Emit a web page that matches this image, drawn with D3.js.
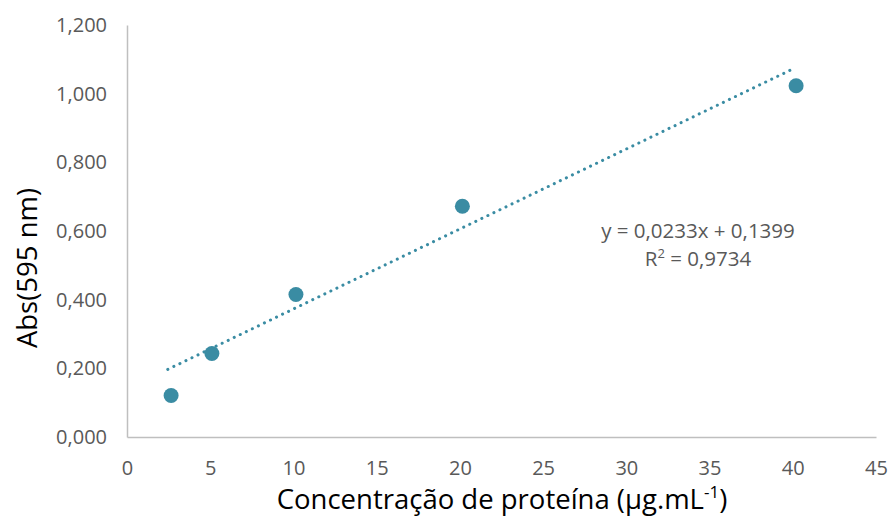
<!DOCTYPE html>
<meta charset="utf-8">
<style>
    body { margin: 0; background: #fff; }
    .tick text { fill: #595959; font: 20px "Open Sans", sans-serif; }
    .axis-title { fill: #000; font: 27.5px "Open Sans", sans-serif; }
    .eq { fill: #595959; font: 20.5px "Open Sans", sans-serif; }
</style>
<svg width="892" height="525"></svg>
<script src="https://d3js.org/d3.v7.min.js"></script>
<script>
    // concentration (ug/mL) and absorbance
    var concentracao = [2.65, 5.1, 10.15, 20.15, 40.2];
    var absorbancia = [0.121, 0.243, 0.415, 0.672, 1.023];
    var xTicks = [0, 5, 10, 15, 20, 25, 30, 35, 40, 45];
    var yTicks = [0, 0.2, 0.4, 0.6, 0.8, 1.0, 1.2];
    var slope = 0.0233, intercept = 0.1399;

    var svg = d3.select("svg"),
        margin = {top: 25, right: 16, bottom: 88, left: 127},
        width = +svg.attr("width") - margin.left - margin.right,
        height = +svg.attr("height") - margin.top - margin.bottom,
        g = svg.append("g").attr("transform", "translate(" + margin.left + "," + margin.top + ")");

    var x = d3.scaleLinear().domain([0, 45]).range([0, width]);
    var y = d3.scaleLinear().domain([0, 1.2]).range([height, 0]);
    var fmt = function (d) { return d3.format(".3f")(d).replace(".", ","); };

    g.append("g")
        .attr("transform", "translate(0," + height + ")")
        .call(d3.axisBottom(x).tickValues(xTicks).tickSize(0).tickPadding(24))
        .call(function (a) { a.select(".domain").attr("stroke", "#bfbfbf").attr("stroke-width", 1.5); });

    g.append("g")
        .call(d3.axisLeft(y).tickValues(yTicks).tickFormat(fmt).tickSize(0).tickPadding(20))
        .call(function (a) { a.select(".domain").attr("stroke", "#bfbfbf").attr("stroke-width", 1.5); });

    // trendline
    var xr = d3.extent(concentracao);
    g.append("line")
        .attr("x1", x(xr[0] - 0.2)).attr("y1", y(slope * (xr[0] - 0.2) + intercept))
        .attr("x2", x(xr[1] - 0.3)).attr("y2", y(slope * (xr[1] - 0.3) + intercept))
        .attr("stroke", "#3a8ca3")
        .attr("stroke-width", 3)
        .attr("stroke-linecap", "round")
        .attr("stroke-dasharray", "0.1 6.6");

    g.selectAll(".pt")
        .data(concentracao)
        .enter().append("circle")
        .attr("class", "pt")
        .attr("cx", function (d) { return x(d); })
        .attr("cy", function (d, i) { return y(absorbancia[i]); })
        .attr("r", 7.5)
        .attr("fill", "#3a8ca3");

    svg.append("text")
        .attr("class", "eq")
        .attr("x", 698).attr("y", 238)
        .attr("text-anchor", "middle")
        .text("y = 0,0233x + 0,1399");
    var r2 = svg.append("text")
        .attr("class", "eq")
        .attr("x", 698).attr("y", 266)
        .attr("text-anchor", "middle");
    r2.append("tspan").text("R");
    r2.append("tspan").attr("dy", -8).style("font-size", "13px").text("2");
    r2.append("tspan").attr("dy", 8).text(" = 0,9734");

    svg.append("text")
        .attr("class", "axis-title")
        .attr("transform", "translate(37,268) rotate(-90)")
        .attr("text-anchor", "middle")
        .text("Abs(595 nm)");

    var xt = svg.append("text")
        .attr("class", "axis-title")
        .attr("x", 502).attr("y", 509)
        .attr("text-anchor", "middle");
    xt.append("tspan").text("Concentração de proteína (µg.mL");
    xt.append("tspan").attr("dy", -11).style("font-size", "17px").text("-1");
    xt.append("tspan").attr("dy", 11).text(")");
</script>
